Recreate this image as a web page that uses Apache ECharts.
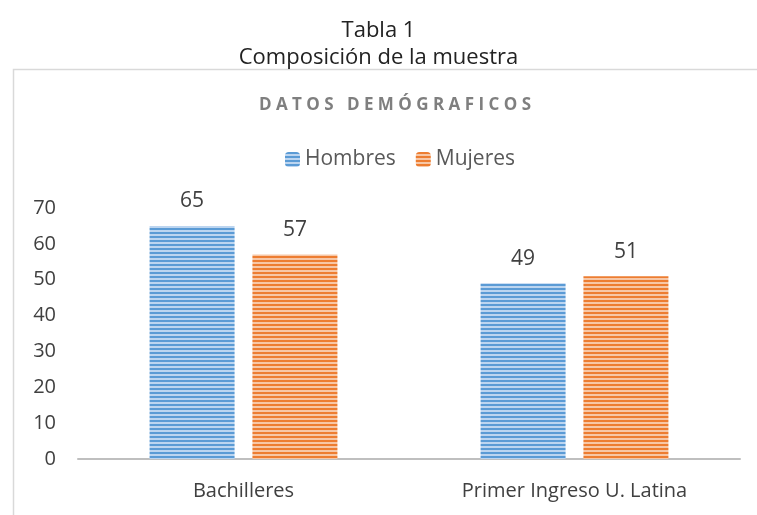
<!DOCTYPE html>
<html lang="es">
<head>
    <meta charset="UTF-8">
    <title>Composición de la muestra</title>
    <script src="https://cdn.jsdelivr.net/npm/echarts@6/dist/echarts.min.js"></script>
    <style>
        html, body { margin: 0; padding: 0; background: #fff; }
        #main { width: 757px; height: 515px; }
    </style>
</head>
<body>
<div id="main"></div>
<script>
    // datos de la grafica
    var categorias = ['Bachilleres', 'Primer Ingreso U. Latina'];
    var hombres = [65, 49];
    var mujeres = [57, 51];
    var ejeY = [0, 70, 10];

    // relleno rayado horizontal como en Excel
    function rayas(oscuro, claro) {
        var c = document.createElement('canvas');
        c.width = 4;
        c.height = 4;
        var ctx = c.getContext('2d');
        ctx.fillStyle = claro;
        ctx.fillRect(0, 0, 4, 4);
        ctx.fillStyle = oscuro;
        ctx.fillRect(0, 0, 4, 2);
        return { image: c, repeat: 'repeat' };
    }

    var azul = rayas('#5b9bd5', '#bcd5f0');
    var naranja = rayas('#ed7d31', '#f7c7a6');
    var fuente = '"Open Sans", "Noto Sans", sans-serif';

    var chart = echarts.init(document.getElementById('main'));
    chart.setOption({
        animation: false,
        textStyle: { fontFamily: fuente },
        title: [
            {
                text: 'Tabla 1\nComposición de la muestra',
                left: 'center', top: 12,
                textStyle: { fontSize: 22, fontWeight: 'normal', color: '#222', lineHeight: 27, fontFamily: fuente }
            },
            {
                text: 'D A T O S   D E M Ó G R A F I C O S',
                left: 390, textAlign: 'center', top: 92,
                textStyle: { fontSize: 17, fontWeight: 'bold', color: '#7f7f7f', fontFamily: fuente }
            }
        ],
        graphic: [
            {
                type: 'polyline',
                shape: { points: [[13.5, 515], [13.5, 69.5], [757, 69.5]] },
                style: { stroke: '#d9d9d9', lineWidth: 1.5, fill: null }
            }
        ],
        legend: {
            top: 144, left: 280,
            itemWidth: 15, itemHeight: 15, itemGap: 20,
            textStyle: { fontSize: 21, color: '#595959', fontFamily: fuente },
            data: ['Hombres', 'Mujeres']
        },
        grid: { left: 78, right: 17, top: 208, bottom: 56 },
        xAxis: {
            type: 'category',
            data: categorias,
            axisLine: { lineStyle: { color: '#bfbfbf', width: 2 } },
            axisTick: { show: false },
            axisLabel: { fontSize: 20, color: '#404040', margin: 22 }
        },
        yAxis: {
            type: 'value',
            min: ejeY[0], max: ejeY[1], interval: ejeY[2],
            splitLine: { show: false },
            axisLabel: { fontSize: 20, color: '#404040', margin: 22 }
        },
        series: [
            {
                name: 'Hombres', type: 'bar', data: hombres,
                barWidth: 85, barGap: '21%',
                itemStyle: { color: azul },
                label: { show: true, position: 'top', distance: 14, fontSize: 21, color: '#404040' }
            },
            {
                name: 'Mujeres', type: 'bar', data: mujeres,
                barWidth: 85,
                itemStyle: { color: naranja },
                label: { show: true, position: 'top', distance: 14, fontSize: 21, color: '#404040' }
            }
        ]
    });
</script>
</body>
</html>
